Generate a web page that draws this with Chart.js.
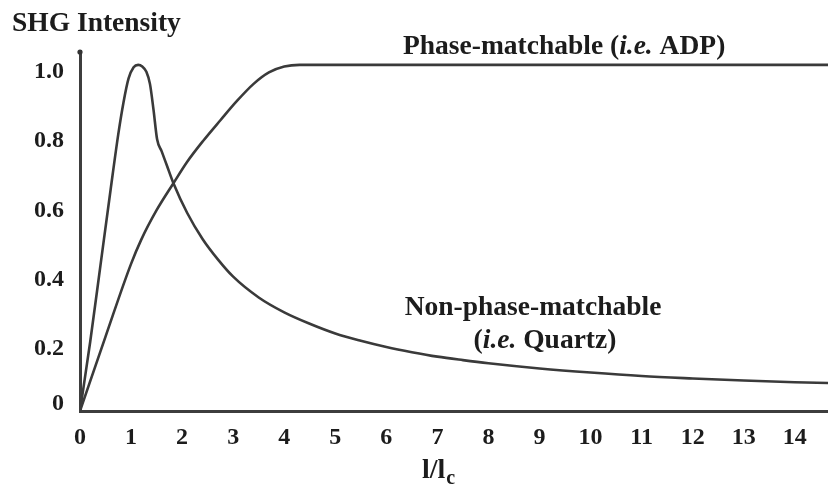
<!DOCTYPE html>
<html>
<head>
<meta charset="utf-8">
<script src="https://cdn.jsdelivr.net/npm/chart.js@4.4.1/dist/chart.umd.min.js"></script>
<style>
html,body{margin:0;padding:0;background:#ffffff;}
#wrap{width:828px;height:486px;position:relative;}
</style>
</head>
<body>
<div id="wrap"><canvas id="c"></canvas></div>
<script>
// ---- data ----
const xTicks = [0,1,2,3,4,5,6,7,8,9,10,11,12,13,14];
const yTicks = [0,0.2,0.4,0.6,0.8,1.0];
const yTickLabels = ['0','0.2','0.4','0.6','0.8','1.0'];

const nonPhaseX = [0,0.2,0.4,0.6,0.75,0.85,0.95,1.05,1.14,1.22,1.3,1.37,1.44,1.51,1.6,1.7,1.83,2.1,2.4,2.7,3.0,3.5,4.0,4.5,5.0,5.5,6,6.5,7,7.5,8,9,10,11,12,13,14,14.65];
const nonPhaseY = [0,0.2,0.42,0.64,0.8,0.89,0.96,0.993,1.0,0.995,0.98,0.945,0.87,0.785,0.75,0.71,0.658,0.572,0.497,0.438,0.388,0.328,0.285,0.252,0.224,0.203,0.185,0.17,0.157,0.147,0.138,0.123,0.111,0.101,0.094,0.088,0.083,0.081];

const phaseX = [0,0.5,1.0,1.2,1.5,1.83,2.1,2.41,2.75,3.07,3.4,3.7,4.0,4.3,4.7,5.5,7,9,11,13,14.65];
const phaseY = [0,0.215,0.425,0.495,0.58,0.658,0.72,0.78,0.84,0.895,0.945,0.978,0.995,1.0,1.0,1.0,1.0,1.0,1.0,1.0,1.0];

const seriesNames = ['Non-phase-matchable','Phase-matchable'];

// ---- styling ----
const FONT = "'Liberation Serif','Times New Roman',serif";
const INK = '#1c1c1c';
const LINE = '#3a3a3a';

function pts(xs, ys){ return xs.map((x,i)=>({x:x, y:ys[i]})); }

const annot = {
  id:'annot',
  afterDraw(chart){
    const ctx = chart.ctx;
    const xs = chart.scales.x, ys = chart.scales.y;
    ctx.save();
    // small dot at top of y axis
    ctx.fillStyle = '#333';
    ctx.beginPath(); ctx.arc(xs.left, ys.top + 1, 2.6, 0, Math.PI*2); ctx.fill();

    ctx.fillStyle = INK;
    ctx.textBaseline = 'alphabetic';
    ctx.textAlign = 'left';
    function runs(parts, x, y, align, size){
      size = size || 27.5;
      let total = 0;
      parts.forEach(p=>{
        ctx.font = (p[1]?'italic ':'') + 'bold ' + size + 'px ' + FONT;
        p.w = ctx.measureText(p[0]).width; total += p.w;
      });
      let cx = align === 'center' ? x - total/2 : x;
      parts.forEach(p=>{
        ctx.font = (p[1]?'italic ':'') + 'bold ' + size + 'px ' + FONT;
        ctx.fillText(p[0], cx, y); cx += p.w;
      });
      return cx;
    }
    runs([['SHG Intensity',false]], 12, 31);
    runs([['Phase-matchable (',false],['i.e.',true],[' ADP)',false]], 403, 54);
    runs([['Non-phase-matchable',false]], 533, 315, 'center');
    runs([['(',false],['i.e.',true],[' Quartz)',false]], 545, 348, 'center');
    // x-axis title l/l_c
    const endX = runs([['l/l',false]], 422, 478, 'left', 28);
    ctx.font = 'bold 20px ' + FONT;
    ctx.fillText('c', endX + 1, 484);
    ctx.restore();
  }
};

new Chart(document.getElementById('c'), {
  type: 'line',
  data: {
    datasets: [
      { label: seriesNames[0], data: pts(nonPhaseX, nonPhaseY), borderColor: LINE, borderWidth: 2.6,
        pointRadius: 0, fill: false, cubicInterpolationMode: 'monotone' },
      { label: seriesNames[1], data: pts(phaseX, phaseY), borderColor: LINE, borderWidth: 2.6,
        pointRadius: 0, fill: false, cubicInterpolationMode: 'monotone' }
    ]
  },
  options: {
    responsive: true,
    maintainAspectRatio: false,
    animation: false,
    layout: { padding: { top: 51, left: 0, right: 0, bottom: 0 } },
    plugins: { legend: { display: false }, tooltip: { enabled: false }, title: { display: false } },
    scales: {
      x: {
        type: 'linear', min: 0, max: 14.65,
        grid: { display: false, drawTicks: false },
        border: { color: '#3d3d3d', width: 3 },
        afterBuildTicks(s){ s.ticks = xTicks.map(v=>({value:v})); },
        ticks: { color: INK, padding: 12, maxRotation: 0, autoSkip: false,
          font: { family: FONT, size: 24, weight: 'bold' },
          callback: (v)=> String(v) },
        afterFit(s){ s.height = 75; }
      },
      y: {
        type: 'linear', min: 0, max: 1.04,
        grid: { display: false, drawTicks: false },
        border: { color: '#3d3d3d', width: 3 },
        afterBuildTicks(s){ s.ticks = yTicks.map(v=>({value:v})); },
        ticks: { color: INK, padding: 16, autoSkip: false, labelOffset: 7,
          font: { family: FONT, size: 24, weight: 'bold' },
          callback: (v)=> {
            const i = yTicks.indexOf(v);
            if (i < 0) return '';
            // the zero label sits just above the x axis in the original
            return i === 0 ? [yTickLabels[i], ''] : yTickLabels[i];
          } },
        afterFit(s){ s.width = 80; }
      }
    }
  },
  plugins: [annot]
});
</script>
</body>
</html>
